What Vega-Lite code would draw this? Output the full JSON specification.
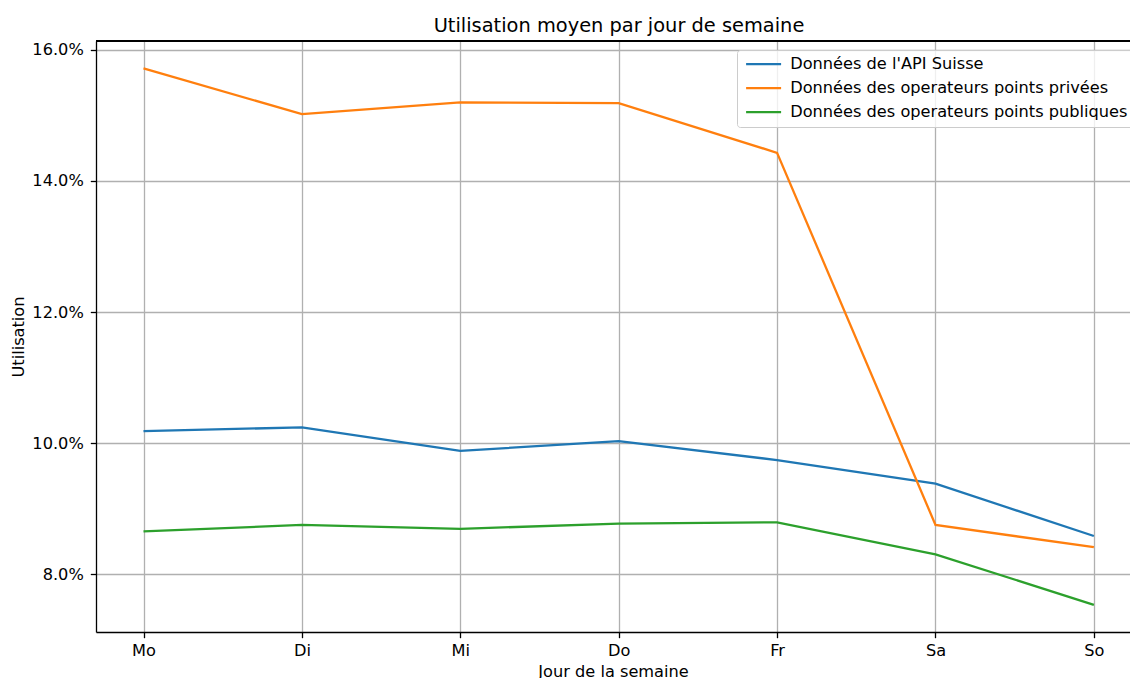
{
  "$schema": "https://vega.github.io/schema/vega-lite/v6.json",
  "autosize": "none",
  "width": 1034,
  "height": 591,
  "padding": {"left": 96, "top": 41, "right": 0, "bottom": 46},
  "background": "white",
  "config": {
    "font": "DejaVu Sans",
    "view": {"stroke": null},
    "axis": {
      "labelFont": "DejaVu Sans",
      "titleFont": "DejaVu Sans",
      "labelFontSize": 16.2,
      "titleFontSize": 16.2,
      "titleFontWeight": "normal",
      "labelColor": "#000000",
      "titleColor": "#000000",
      "domainColor": "#000000",
      "domainWidth": 1.3,
      "tickColor": "#000000",
      "tickSize": 5.7,
      "tickWidth": 1.3,
      "gridColor": "#b0b0b0",
      "gridWidth": 1.3,
      "gridOpacity": 1
    },
    "legend": {
      "labelFont": "DejaVu Sans",
      "labelFontSize": 16.2,
      "labelColor": "#000000"
    }
  },
  "title": {
    "text": "Utilisation moyen par jour de semaine",
    "font": "DejaVu Sans",
    "fontSize": 19.4,
    "fontWeight": "normal",
    "color": "#000000",
    "anchor": "middle",
    "frame": "group",
    "dx": 6,
    "offset": 4
  },
  "data": {
    "values": [
      {"jour": "Mo", "serie": "Données de l'API Suisse", "utilisation": 0.1018},
      {"jour": "Di", "serie": "Données de l'API Suisse", "utilisation": 0.1024},
      {"jour": "Mi", "serie": "Données de l'API Suisse", "utilisation": 0.0988},
      {"jour": "Do", "serie": "Données de l'API Suisse", "utilisation": 0.1003},
      {"jour": "Fr", "serie": "Données de l'API Suisse", "utilisation": 0.0974},
      {"jour": "Sa", "serie": "Données de l'API Suisse", "utilisation": 0.0938},
      {"jour": "So", "serie": "Données de l'API Suisse", "utilisation": 0.0858},
      {"jour": "Mo", "serie": "Données des operateurs points privées", "utilisation": 0.1572},
      {"jour": "Di", "serie": "Données des operateurs points privées", "utilisation": 0.1502},
      {"jour": "Mi", "serie": "Données des operateurs points privées", "utilisation": 0.1520},
      {"jour": "Do", "serie": "Données des operateurs points privées", "utilisation": 0.1519},
      {"jour": "Fr", "serie": "Données des operateurs points privées", "utilisation": 0.1443},
      {"jour": "Sa", "serie": "Données des operateurs points privées", "utilisation": 0.0875},
      {"jour": "So", "serie": "Données des operateurs points privées", "utilisation": 0.0841},
      {"jour": "Mo", "serie": "Données des operateurs points publiques", "utilisation": 0.0865},
      {"jour": "Di", "serie": "Données des operateurs points publiques", "utilisation": 0.0875},
      {"jour": "Mi", "serie": "Données des operateurs points publiques", "utilisation": 0.0869},
      {"jour": "Do", "serie": "Données des operateurs points publiques", "utilisation": 0.0877},
      {"jour": "Fr", "serie": "Données des operateurs points publiques", "utilisation": 0.0879},
      {"jour": "Sa", "serie": "Données des operateurs points publiques", "utilisation": 0.0830},
      {"jour": "So", "serie": "Données des operateurs points publiques", "utilisation": 0.0753}
    ]
  },
  "layer": [
    {
      "mark": {"type": "line", "strokeWidth": 2.3},
      "encoding": {
        "x": {
          "field": "jour",
          "type": "ordinal",
          "sort": ["Mo", "Di", "Mi", "Do", "Fr", "Sa", "So"],
          "scale": {"type": "point", "padding": 0.264, "align": 0.568},
          "axis": {"title": "Jour de la semaine", "labelAngle": 0, "grid": true, "labelPadding": 5, "titlePadding": 5}
        },
        "y": {
          "field": "utilisation",
          "type": "quantitative",
          "scale": {"domain": [0.07115, 0.16137], "nice": false, "zero": false},
          "axis": {"title": "Utilisation", "format": ".1%", "values": [0.08, 0.10, 0.12, 0.14, 0.16], "grid": true, "labelPadding": 7, "titlePadding": 5}
        },
        "color": {
          "field": "serie",
          "type": "nominal",
          "scale": {
            "domain": ["Données de l'API Suisse", "Données des operateurs points privées", "Données des operateurs points publiques"],
            "range": ["#1f77b4", "#ff7f0e", "#2ca02c"]
          },
          "legend": {
            "title": null,
            "orient": "none",
            "legendX": 641,
            "legendY": 9,
            "padding": 6,
            "fillColor": "rgba(255,255,255,0.8)",
            "strokeColor": "#cccccc",
            "cornerRadius": 3,
            "symbolType": "M-1,0H6",
            "symbolSize": 100,
            "symbolStrokeWidth": 2.3,
            "labelOffset": 31,
            "labelLimit": 0,
            "rowPadding": 7,
            "labelFontSize": 16.2
          }
        }
      }
    },
    {
      "mark": {"type": "rule", "color": "#000000", "strokeWidth": 1.3},
      "encoding": {"y": {"datum": 0.16137}}
    }
  ]
}
